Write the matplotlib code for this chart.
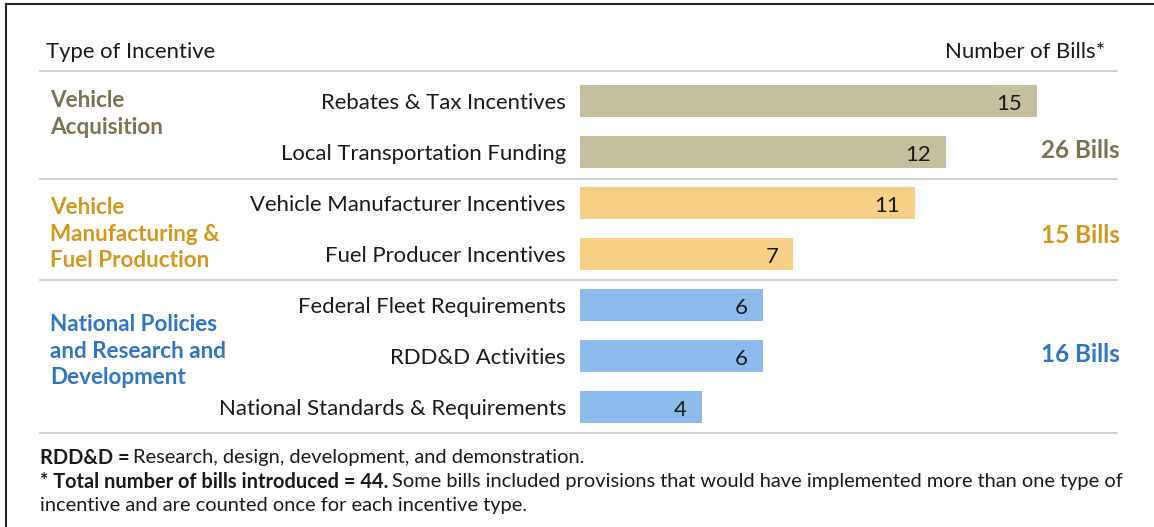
import matplotlib.pyplot as plt
from matplotlib.lines import Line2D

plt.rcParams['font.family'] = ['Lato', 'DejaVu Sans']

# data
categories = ['Rebates & Tax Incentives', 'Local Transportation Funding',
              'Vehicle Manufacturer Incentives', 'Fuel Producer Incentives',
              'Federal Fleet Requirements', 'RDD&D Activities',
              'National Standards & Requirements']
bills = [15, 12, 11, 7, 6, 6, 4]
group_of = [0, 0, 1, 1, 2, 2, 2]
group_names = ['Vehicle\nAcquisition',
               'Vehicle\nManufacturing &\nFuel Production',
               'National Policies\nand Research and\nDevelopment']
group_totals = ['26 Bills', '15 Bills', '16 Bills']

bar_colors = ['#c4bf9f', '#f7d088', '#8dbbeb']
text_colors = ['#7a7350', '#d4961c', '#2e75c4']

W, H = 1154, 527
fig = plt.figure(figsize=(W / 100, H / 100), dpi=100)

# bar axes covers full figure; scale: 1 bill ~ 30.47 px, rows 51 px apart
ax = fig.add_axes([0, 0, 1, 1])
ppu = 30.47
x0 = 580
ax.set_xlim(-x0 / ppu, (W - x0) / ppu)
ax.set_ylim((H - 101) / 51, -101 / 51)
ax.axis('off')

rows = list(range(len(categories)))
ax.barh(rows, bills, height=0.61, left=0,
        color=[bar_colors[g] for g in group_of])

def fx(px):
    return px / W

def fy(py):
    return 1 - py / H

fs = 15.9
for r, (cat, v) in enumerate(zip(categories, bills)):
    ax.text(-14 / ppu, r + 0.03, cat, ha='right', va='center', fontsize=fs, color='#1a1a1a')
    ax.text(v - 15 / ppu, r + 0.05, str(v), ha='right', va='center', fontsize=fs, color='#1a1a1a')

# separators
for yy in [-0.59, 1.53, 3.5, 6.5]:
    ax.plot([(40 - x0) / ppu, (1117 - x0) / ppu], [yy, yy], color='#c8c8c8', lw=1.2)

# headers
fig.text(fx(46), fy(52), 'Type of Incentive', ha='left', va='center', fontsize=fs, color='#1a1a1a')
fig.text(fx(1105), fy(52), 'Number of Bills*', ha='right', va='center', fontsize=fs, color='#1a1a1a')

# group labels
group_y = [114, 234, 351]
total_y = [150, 236, 354]
for g in range(3):
    fig.text(fx(50), fy(group_y[g]), group_names[g], ha='left', va='center',
             fontsize=fs + 0.3, fontweight='bold', color=text_colors[g], linespacing=1.3)
    fig.text(fx(1120), fy(total_y[g]), group_totals[g], ha='right', va='center',
             fontsize=17.5, fontweight='bold', color=text_colors[g])

# footnotes
fn = 14.4
t = fig.text(fx(40), fy(458), 'RDD&D =', ha='left', va='center', fontsize=fn, fontweight='bold', color='#1a1a1a')
fig.canvas.draw()
bb = t.get_window_extent()
fig.text(fx(bb.x1 + 3), fy(458), 'Research, design, development, and demonstration.',
         ha='left', va='center', fontsize=fn, color='#1a1a1a')
t2 = fig.text(fx(40), fy(482), '* Total number of bills introduced = 44.', ha='left', va='center',
              fontsize=fn, fontweight='bold', color='#1a1a1a')
fig.canvas.draw()
bb2 = t2.get_window_extent()
fig.text(fx(bb2.x1 + 4), fy(482),
         'Some bills included provisions that would have implemented more than one type of',
         ha='left', va='center', fontsize=fn, color='#1a1a1a')
fig.text(fx(40), fy(506), 'incentive and are counted once for each incentive type.',
         ha='left', va='center', fontsize=fn, color='#1a1a1a')

# frame (top and left edges)
fig.add_artist(Line2D([fx(6), 1], [fy(4), fy(4)], color='#222222', lw=1.5))
fig.add_artist(Line2D([fx(6), fx(6)], [0, fy(4)], color='#222222', lw=1.5))

fig.savefig('out.png', dpi=100)
